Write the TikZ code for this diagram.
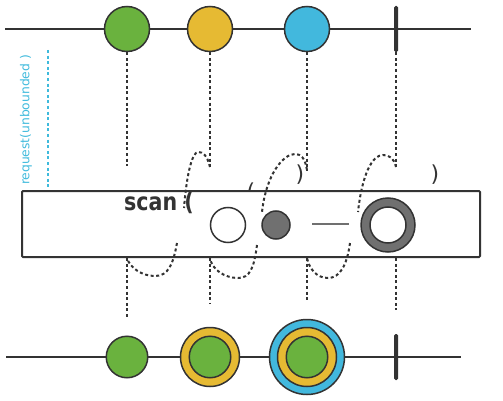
\documentclass[tikz,border=0pt]{standalone}
\usepackage{fontspec}
\usepackage{xcolor}
\usetikzlibrary{positioning}
\setmainfont{DejaVu Sans}
\definecolor{mgreen}{HTML}{6AB23E}
\definecolor{myellow}{HTML}{E6BA33}
\definecolor{mblue}{HTML}{42B8DD}
\definecolor{mdark}{HTML}{333333}
\definecolor{mgray}{HTML}{707070}
\definecolor{mcyan}{HTML}{3FBADC}

\begin{document}
\begin{tikzpicture}[x=1pt,y=-1pt]
	\tikzstyle{marble_style} = [circle,draw=mdark,line width=1.5pt,inner sep=0pt]
	\tikzstyle{stop_style} = [rectangle,fill=mdark,rounded corners=1.5pt,minimum width=4pt,minimum height=46pt,inner sep=0pt]
	\tikzstyle{axis_style} = [draw=mdark,line width=2pt]
	\tikzstyle{dot_style} = [draw=mdark,line width=2pt,dash pattern=on 3pt off 2.6pt]
	\tikzstyle{paren_style} = [inner sep=0pt,anchor=north,font=\fontsize{22}{22}\selectfont,text=mdark]
	\useasboundingbox (0,0) rectangle (503,401);
		% source
		\coordinate (tl) at (5,29);
		\coordinate (tr) at (471,29);
		\draw[axis_style] (tl) -- (tr);
		\node[marble_style,fill=mgreen,minimum size=45pt] (in1) at (127,29) {};
		\node[marble_style,fill=myellow,minimum size=45pt] (in2) at (210,29) {};
		\node[marble_style,fill=mblue,minimum size=45pt] (in3) at (307,29) {};
		\node[stop_style] (in4) at (396,29) {};
		\coordinate (e1) at (127,166);
		\coordinate (e2) at (210,167);
		\coordinate (e3) at (307,170);
		\coordinate (e4) at (396,167);
		\draw[dot_style] (in1.south) -- (e1);
		\draw[dot_style] (in2.south) -- (e2);
		\draw[dot_style] (in3.south) -- (e3);
		\draw[dot_style] (in4.south) -- (e4);
		% request
		\node[rotate=90,inner sep=0pt,text=mcyan,font=\fontsize{12.3}{12.3}\selectfont] (req) at (26,120) {request(unbounded )};
		\coordinate (rq1) at (48,50);
		\coordinate (rq2) at (48,190);
		\draw[draw=mcyan,line width=2pt,dash pattern=on 3pt off 2.6pt] (rq1) -- (rq2);
		% operator
		\node[paren_style] (pa) at (251,183) {(};
		\node[paren_style] (pb) at (300,165) {)};
		\node[paren_style] (pc) at (435,165) {)};
		\node[draw=mdark,line width=2pt,fill=white,rounded corners=1pt,minimum width=458pt,minimum height=66pt] (op) at (251,224) {};
		\node[anchor=base west,inner sep=0pt,xscale=0.84,font=\bfseries\fontsize{24.5}{24.5}\selectfont,text=mdark] (lbl) at (124,210) {scan (};
		\node[marble_style,fill=white,minimum size=35pt] (seed) at (228,225) {};
		\node[marble_style,fill=mgray,minimum size=28pt] (acc) at (276,225) {};
		\coordinate (g1) at (312,224);
		\coordinate (g2) at (349,224);
		\draw[draw=mgray,line width=2pt] (g1) -- (g2);
		\node[marble_style,fill=mgray,minimum size=54pt] (ring) at (388,225) {};
		\node[marble_style,fill=white,minimum size=36pt] (hole) at (388,225) {};
		% scan curves
		\coordinate (k1) at (184,208);
		\coordinate (k2) at (262,212);
		\coordinate (k3) at (358,212);
		\coordinate (m1) at (177,243);
		\coordinate (m2) at (257,245);
		\coordinate (m3) at (350,243);
		\coordinate (p1) at (127,258);
		\coordinate (p2) at (210,258);
		\coordinate (p3) at (307,258);
		\coordinate (p4) at (396,258);
		\draw[dot_style] (e2) .. controls (207,155) and (203,152) .. (198,152) .. controls (193,152) and (187,170) .. (k1);
		\draw[dot_style] (e3) .. controls (305,158) and (301,154) .. (295,154) .. controls (283,154) and (266,175) .. (k2);
		\draw[dot_style] (e4) .. controls (394,158) and (389,155) .. (383,155) .. controls (372,155) and (362,175) .. (k3);
		\draw[dot_style] (m1) .. controls (173,265) and (168,276) .. (155,276) .. controls (142,276) and (130,268) .. (p1);
		\draw[dot_style] (m2) .. controls (254,268) and (250,278) .. (238,278) .. controls (225,278) and (212,270) .. (p2);
		\draw[dot_style] (m3) .. controls (347,265) and (340,278) .. (328,278) .. controls (316,278) and (309,268) .. (p3);
		% result
		\coordinate (f1) at (127,318);
		\coordinate (f2) at (210,303);
		\coordinate (f3) at (307,302);
		\coordinate (f4) at (396,310);
		\draw[dot_style] (p1) -- (f1);
		\draw[dot_style] (p2) -- (f2);
		\draw[dot_style] (p3) -- (f3);
		\draw[dot_style] (p4) -- (f4);
		\coordinate (bl) at (6,357);
		\coordinate (br) at (461,357);
		\draw[axis_style] (bl) -- (br);
		\node[marble_style,fill=mgreen,minimum size=41.5pt] (out1) at (127,357) {};
		\node[marble_style,fill=myellow,minimum size=59pt] (out2) at (210,357) {};
		\node[marble_style,fill=mgreen,minimum size=41.5pt] (out2a) at (210,357) {};
		\node[marble_style,fill=mblue,minimum size=75pt] (out3) at (307,357) {};
		\node[marble_style,fill=myellow,minimum size=59pt] (out3a) at (307,357) {};
		\node[marble_style,fill=mgreen,minimum size=41.5pt] (out3b) at (307,357) {};
		\node[stop_style] (out4) at (396,357) {};
\end{tikzpicture}
\end{document}
